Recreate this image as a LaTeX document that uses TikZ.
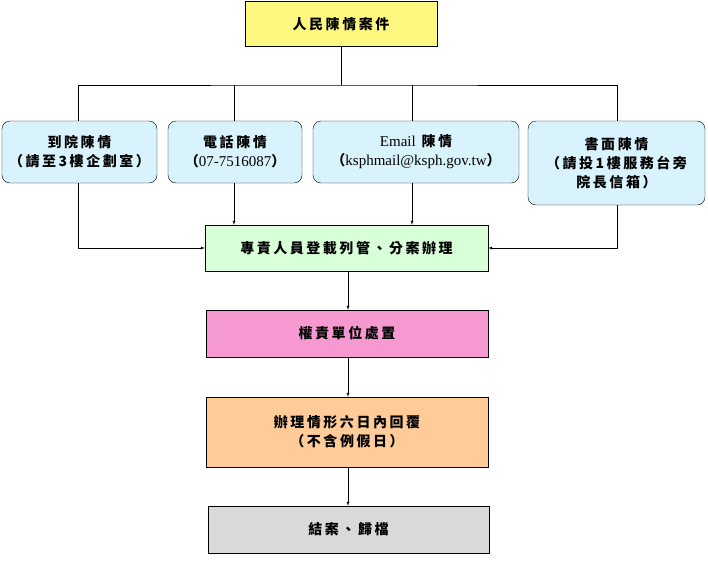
\documentclass[tikz,border=0pt]{standalone}
\usepackage{fontspec}
\setmainfont{Liberation Serif}
\newfontfamily\cjk{Noto Sans CJK TC}[LetterSpace=18]
\usetikzlibrary{positioning}

\tikzstyle{block} = [
        draw,
        rectangle,
        font=\cjk\bfseries\fontsize{14}{19}\selectfont,
        align=center,
        inner sep=1pt
    ]
\tikzstyle{src} = [
        block,
        rounded corners=8pt,
        fill=cyan!15
    ]

\begin{document}
\begin{tikzpicture}[x=1pt, y=-1pt, >=latex]
        \useasboundingbox (0,0) rectangle (708,570);
        \node(case) [block, fill=yellow!50, minimum width=192pt, minimum height=45pt] at (341,24) {人民陳情案件};
        \node(walk) [src, minimum width=155pt, minimum height=62pt] at (79.5,152) {到院陳情\\（請至3樓企劃室）};
        \node(tele) [src, minimum width=134pt, minimum height=62pt] at (235,152) {電話陳情\\（{\rmfamily\mdseries\fontsize{15}{19}\selectfont 07-7516087}）};
        \node(mail) [src, minimum width=206pt, minimum height=62pt] at (416,152) {{\rmfamily\mdseries\fontsize{15}{19}\selectfont Email} 陳情\\（{\rmfamily\mdseries\fontsize{15}{19}\selectfont ksphmail@ksph.gov.tw}）};
        \node(lett) [src, minimum width=177pt, minimum height=84pt] at (616.5,163) {書面陳情\\（請投1樓服務台旁\\院長信箱）};
        \node(regi) [block, fill=green!15, minimum width=283pt, minimum height=46pt] at (346.5,248) {專責人員登載列管、分案辦理};
        \node(unit) [block, fill=magenta!40, minimum width=282pt, minimum height=47pt] at (347,333.5) {權責單位處置};
        \node(repl) [block, fill=orange!40, minimum width=282pt, minimum height=70pt] at (347,432) {辦理情形六日內回覆\\（不含例假日）};
        \node(done) [block, fill=gray!30, minimum width=281pt, minimum height=47pt] at (348.5,529.5) {結案、歸檔};
        \coordinate(bus) at (341,85);
        \draw (case) -- (bus);
        \draw (walk.north -| 78,0) |- (bus) -| (lett.north -| 617,0);
        \draw (tele.north -| 234,0) -- (234,85);
        \draw (mail.north -| 412,0) -- (412,85);
        \draw[->] (walk.south -| 78,0) |- (regi);
        \draw[->] (tele.south -| 234,0) -- (regi.north -| 234,0);
        \draw[->] (mail.south -| 412,0) -- (regi.north -| 412,0);
        \draw[->] (lett.south -| 617,0) |- (regi);
        \draw[->] (regi.south -| 348,0) -- (unit.north -| 348,0);
        \draw[->] (unit.south -| 348,0) -- (repl.north -| 348,0);
        \draw[->] (repl.south -| 348,0) -- (done.north -| 348,0);
    \end{tikzpicture}
\end{document}
